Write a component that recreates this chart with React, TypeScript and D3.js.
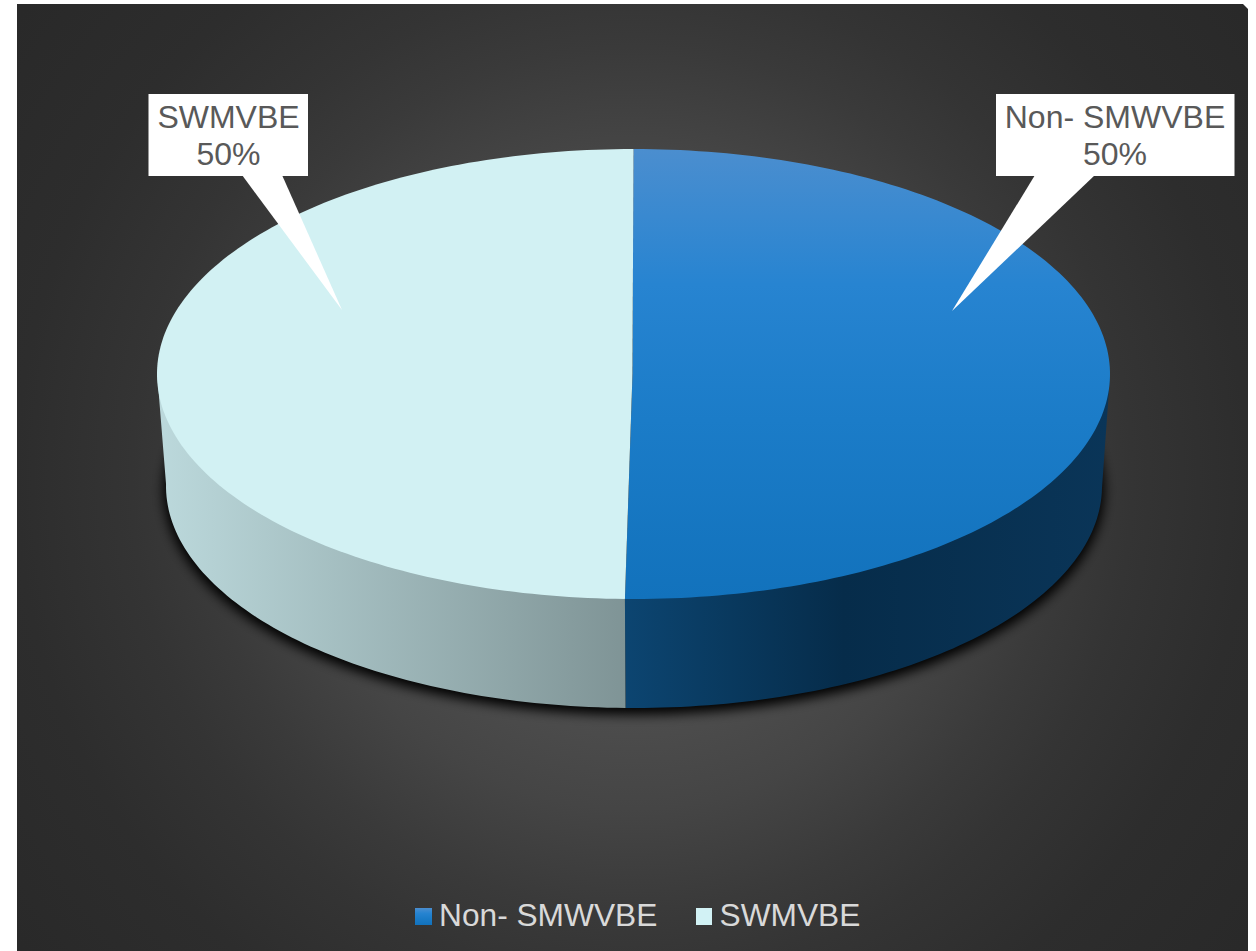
import React from "react";
import * as d3 from "d3";

const categories = ["Non- SMWVBE", "SWMVBE"];
const shares = [50, 50];
const percentLabels = ["50%", "50%"];

const FONT = "'Liberation Sans', Arial, sans-serif";
const W = 1256;
const H = 951;

// Top face and lower rim of the extruded disc, as ellipses.
const topFace = { cx: 633.5, cy: 374, rx: 476.5, ry: 225 };
const baseRim = { cx: 634, cy: 486, rx: 468, ry: 222 };
// Perspective pushes the near end of the seam slightly off the vertical axis,
// and the pie's centre sits a little left of the ellipse centre.
const seamLean = 0.018;
const hub: [number, number] = [632.5, 374];

const warp = (a: number) => a + (seamLean * (1 - Math.cos(a))) / 2;
const onEllipse = (e: typeof topFace, a: number): [number, number] => [
  e.cx + e.rx * Math.sin(warp(a)),
  e.cy - e.ry * Math.cos(warp(a)),
];

const slices = d3.pie<number>().sort(null)(shares);
const line = d3.line();

function facePath(a0: number, a1: number) {
  const n = 160;
  const pts = d3.range(n + 1).map((i) => onEllipse(topFace, a0 + ((a1 - a0) * i) / n));
  return line([hub, ...pts]) + "Z";
}

// The wall closes along a chord hidden under the top face, so no seam shows on the rim.
function wallPath(a0: number, a1: number) {
  const n = 80;
  const lower = d3.range(n + 1).map((i) => onEllipse(baseRim, a0 + ((a1 - a0) * i) / n));
  return line([...lower, onEllipse(topFace, a1), onEllipse(topFace, a0)]) + "Z";
}

const rimOutline = d3.range(0, 181).map((i) => onEllipse(baseRim, (i / 180) * 2 * Math.PI));

const wallSpans = slices.map((s) => ({
  a0: Math.max(s.startAngle, Math.PI / 2),
  a1: Math.min(s.endAngle, (3 * Math.PI) / 2),
}));

// Callout boxes: box edges, pointer base on the lower edge, pointer tip.
const callouts = [
  { box: [996, 94, 238.5, 82], base: [1035, 1095], tip: [952, 311], lines: [categories[0], percentLabels[0]], cx: 1115 },
  { box: [148.5, 94, 159.5, 82], base: [242, 282], tip: [342, 310], lines: [categories[1], percentLabels[1]], cx: 228.5 },
];

const legend = [
  { key: [415, 908, 17, 17], textX: 439, fill: "url(#blueKey)", name: categories[0] },
  { key: [696, 908, 16, 17], textX: 719.5, fill: "#d2f2f5", name: categories[1] },
];

export default function App() {
  return (
    <svg
      width={W}
      height={H}
      viewBox={`0 0 ${W} ${H}`}
      style={{ position: "absolute", left: 0, top: 0, display: "block", background: "#fff" }}
    >
      <defs>
        <radialGradient id="backdrop" gradientUnits="userSpaceOnUse" cx="632" cy="478" r="770">
          <stop offset="0%" stopColor="#585858" />
          <stop offset="32%" stopColor="#4c4c4c" />
          <stop offset="43%" stopColor="#454545" />
          <stop offset="56%" stopColor="#3a3a3a" />
          <stop offset="65%" stopColor="#343434" />
          <stop offset="80%" stopColor="#2d2d2d" />
          <stop offset="100%" stopColor="#292929" />
        </radialGradient>
        <linearGradient id="blueFace" gradientUnits="userSpaceOnUse" x1="0" x2="0" y1="149" y2="599">
          <stop offset="0%" stopColor="#4b8ecf" />
          <stop offset="30%" stopColor="#2784d1" />
          <stop offset="60%" stopColor="#1b7cc8" />
          <stop offset="100%" stopColor="#1272bc" />
        </linearGradient>
        <linearGradient id="blueKey" x1="0" x2="0" y1="0" y2="1">
          <stop offset="0%" stopColor="#4b8ecf" />
          <stop offset="30%" stopColor="#2784d1" />
          <stop offset="60%" stopColor="#1b7cc8" />
          <stop offset="100%" stopColor="#1272bc" />
        </linearGradient>
        <linearGradient id="blueWall" gradientUnits="userSpaceOnUse" x1="625" x2="1110" y1="0" y2="0">
          <stop offset="0%" stopColor="#0c4571" />
          <stop offset="45%" stopColor="#062c4a" />
          <stop offset="100%" stopColor="#0a3558" />
        </linearGradient>
        <linearGradient id="paleWall" gradientUnits="userSpaceOnUse" x1="157" x2="625" y1="0" y2="0">
          <stop offset="0%" stopColor="#bcd9dc" />
          <stop offset="100%" stopColor="#7f9496" />
        </linearGradient>
        <filter id="soft" x="-10%" y="-10%" width="120%" height="120%">
          <feGaussianBlur stdDeviation="6" />
        </filter>
      </defs>

      <path d="M17 4H1243L1248 9V951H17Z" fill="url(#backdrop)" />

      <path
        d={line(rimOutline) + "Z"}
        fill="#000"
        stroke="#000"
        strokeWidth={5}
        filter="url(#soft)"
        transform="translate(0,4)"
      />

      {wallSpans.map((w, i) => (
        <path key={i} d={wallPath(w.a0, w.a1)} fill={i === 0 ? "url(#blueWall)" : "url(#paleWall)"} />
      ))}

      {slices.map((s, i) => (
        <path
          key={i}
          d={facePath(s.startAngle, s.endAngle)}
          fill={i === 0 ? "url(#blueFace)" : "#d2f1f3"}
        />
      ))}

      {callouts.map((c, i) => (
        <g key={i}>
          <rect x={c.box[0]} y={c.box[1]} width={c.box[2]} height={c.box[3]} fill="#fff" />
          <path
            d={line([
              [c.base[0], c.box[1] + c.box[3] - 1],
              [c.base[1], c.box[1] + c.box[3] - 1],
              [c.tip[0], c.tip[1]],
            ]) + "Z"}
            fill="#fff"
          />
          {c.lines.map((t, j) => (
            <text
              key={j}
              x={c.cx}
              y={128 + j * 37}
              textAnchor="middle"
              fontFamily={FONT}
              fontSize={32}
              fill="#595959"
            >
              {t}
            </text>
          ))}
        </g>
      ))}

      {legend.map((l, i) => (
        <g key={i}>
          <rect x={l.key[0]} y={l.key[1]} width={l.key[2]} height={l.key[3]} fill={l.fill} />
          <text x={l.textX} y={926} fontFamily={FONT} fontSize={31.7} fill="#d9d9d9">
            {l.name}
          </text>
        </g>
      ))}
    </svg>
  );
}
